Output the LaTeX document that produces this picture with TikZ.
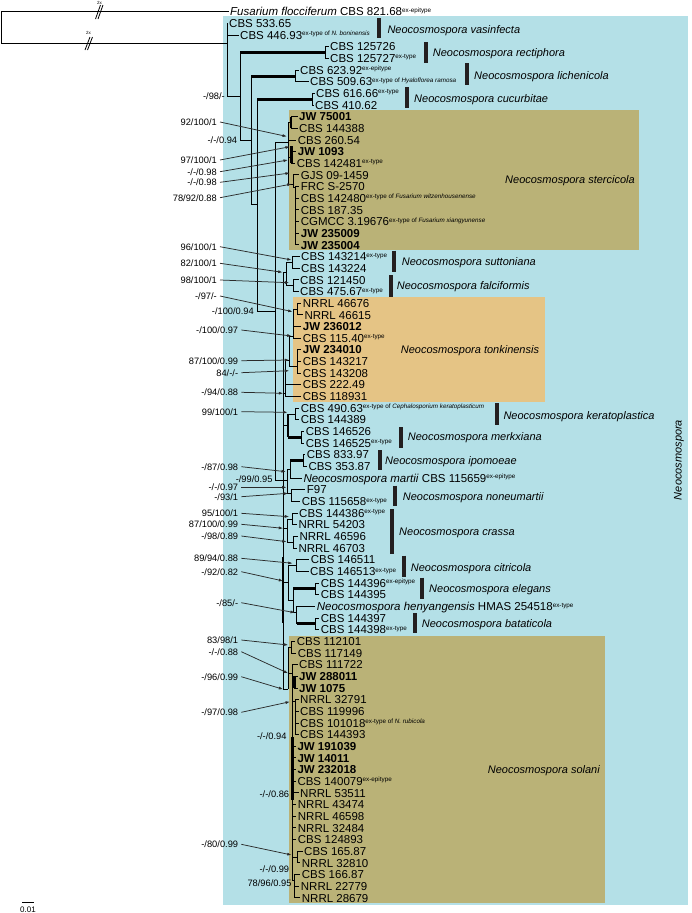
\documentclass[tikz,border=0pt]{standalone}
\usepackage{fontspec}
\setmainfont{Liberation Sans}
\usetikzlibrary{arrows.meta}
\definecolor{bgblue}{HTML}{B4E0E7}
\definecolor{boxolive}{HTML}{BAB277}
\definecolor{boxorange}{HTML}{E5C485}
\definecolor{bardark}{HTML}{231F20}
\definecolor{arrgray}{HTML}{2B2B2B}
\newcommand\tipf{\fontsize{11.5}{12}\selectfont}
\newcommand\spf{\fontsize{11}{12}\selectfont\itshape}
\newcommand\bsf{\fontsize{9.3}{10}\selectfont}
\newcommand\exs[1]{\raisebox{3.5pt}{\fontsize{6.3}{7}\selectfont #1}}
\newcommand\brt[2]{\draw[br] (#1) |- ([xshift=-1.5pt]#2.west);}
\newcommand\brn[2]{\draw[br] (#1) |- (#2);}
\newcommand\brk[2]{\draw[br] (#1) |- (#2); \draw[thk] (#1 |- #2) -- (#2);}
\tikzset{
  br/.style={line width=0.9pt},
  thk/.style={line width=3pt},
  vthk/.style={line width=2.2pt},
  tip/.style={anchor=west, inner sep=0pt, text height=8.2pt, text depth=0pt, font=\tipf},
  spn/.style={anchor=west, inner sep=0pt, text height=8pt, text depth=0pt, font=\spf},
  bsn/.style={anchor=east, inner sep=0pt, text height=6.7pt, text depth=0pt, font=\bsf},
  arr/.style={line width=0.75pt, draw=arrgray, -{Latex[length=4.5pt,width=3pt]}},
  sbar/.style={line width=4pt, draw=bardark},
}
\begin{document}
\begin{tikzpicture}[x=1pt,y=-1pt]
\useasboundingbox (0,0) rectangle (691,913);
\fill[white] (0,0) rectangle (691,913);
\fill[bgblue] (223,16) rectangle (688,905);
\fill[boxolive] (289.3,110) rectangle (639,249.5);
\fill[boxorange] (293.3,297) rectangle (545,402);
\fill[boxolive] (289.3,636) rectangle (605,903.3);

% tips
\node[tip] (t1) at (230,11.7) {\textit{Fusarium flocciferum} CBS 821.68\exs{ex-epitype}};
\node[tip] (t2) at (229,23.4) {CBS 533.65};
\node[tip] (t3) at (240,35.0) {CBS 446.93\exs{ex-type of \textit{N. boninensis}}};
\node[tip] (t4) at (330,46.7) {CBS 125726};
\node[tip] (t5) at (330,58.3) {CBS 125727\exs{ex-type}};
\node[tip] (t6) at (300,70.0) {CBS 623.92\exs{ex-epitype}};
\node[tip] (t7) at (310,81.7) {CBS 509.63\exs{ex-type of \textit{Hyaloflorea ramosa}}};
\node[tip] (t8) at (316,93.3) {CBS 616.66\exs{ex-type}};
\node[tip] (t9) at (315,105.0) {CBS 410.62};
\node[tip] (t10) at (299,116.6) {\textbf{JW 75001}};
\node[tip] (t11) at (299,128.3) {CBS 144388};
\node[tip] (t12) at (297.7,140.0) {CBS 260.54};
\node[tip] (t13) at (297.7,151.6) {\textbf{JW 1093}};
\node[tip] (t14) at (296.7,163.3) {CBS 142481\exs{ex-type}};
\node[tip] (t15) at (300.7,174.9) {GJS 09-1459};
\node[tip] (t16) at (300.7,186.6) {FRC S-2570};
\node[tip] (t17) at (300.7,198.3) {CBS 142480\exs{ex-type of \textit{Fusarium witzenhousenense}}};
\node[tip] (t18) at (300.7,209.9) {CBS 187.35};
\node[tip] (t19) at (300.7,221.6) {CGMCC 3.19676\exs{ex-type of \textit{Fusarium xiangyunense}}};
\node[tip] (t20) at (300.7,233.2) {\textbf{JW 235009}};
\node[tip] (t21) at (300.7,244.9) {\textbf{JW 235004}};
\node[tip] (t22) at (301,256.6) {CBS 143214\exs{ex-type}};
\node[tip] (t23) at (301,268.2) {CBS 143224};
\node[tip] (t24) at (300,279.9) {CBS 121450};
\node[tip] (t25) at (300,291.5) {CBS 475.67\exs{ex-type}};
\node[tip] (t26) at (302.7,303.2) {NRRL 46676};
\node[tip] (t27) at (304.3,314.9) {NRRL 46615};
\node[tip] (t28) at (302.7,326.5) {\textbf{JW 236012}};
\node[tip] (t29) at (302.7,338.2) {CBS 115.40\exs{ex-type}};
\node[tip] (t30) at (302.7,349.8) {\textbf{JW 234010}};
\node[tip] (t31) at (302.7,361.5) {CBS 143217};
\node[tip] (t32) at (302.7,373.2) {CBS 143208};
\node[tip] (t33) at (302.7,384.8) {CBS 222.49};
\node[tip] (t34) at (302.7,396.5) {CBS 118931};
\node[tip] (t35) at (300.7,408.1) {CBS 490.63\exs{ex-type of \textit{Cephalosporium keratoplasticum}}};
\node[tip] (t36) at (300.7,419.8) {CBS 144389};
\node[tip] (t37) at (305.7,431.5) {CBS 146526};
\node[tip] (t38) at (305.7,443.1) {CBS 146525\exs{ex-type}};
\node[tip] (t39) at (306.7,454.8) {CBS 833.97};
\node[tip] (t40) at (308.3,466.4) {CBS 353.87};
\node[tip] (t41) at (303.3,478.1) {\textit{Neocosmospora martii} CBS 115659\exs{ex-epitype}};
\node[tip] (t42) at (306.7,489.8) {F97};
\node[tip] (t43) at (301.7,501.4) {CBS 115658\exs{ex-type}};
\node[tip] (t44) at (299,513.1) {CBS 144386\exs{ex-type}};
\node[tip] (t45) at (298.3,524.7) {NRRL 54203};
\node[tip] (t46) at (299.3,536.4) {NRRL 46596};
\node[tip] (t47) at (298.3,548.1) {NRRL 46703};
\node[tip] (t48) at (310.7,559.7) {CBS 146511};
\node[tip] (t49) at (310,571.4) {CBS 146513\exs{ex-type}};
\node[tip] (t50) at (320.7,583.0) {CBS 144396\exs{ex-epitype}};
\node[tip] (t51) at (320.7,594.7) {CBS 144395};
\node[tip] (t52) at (316.7,606.4) {\textit{Neocosmospora henyangensis} HMAS 254518\exs{ex-type}};
\node[tip] (t53) at (320.7,618.0) {CBS 144397};
\node[tip] (t54) at (320.7,629.7) {CBS 144398\exs{ex-type}};
\node[tip] (t55) at (296.7,641.3) {CBS 112101};
\node[tip] (t56) at (297.7,653.0) {CBS 117149};
\node[tip] (t57) at (299,664.7) {CBS 111722};
\node[tip] (t58) at (299,676.3) {\textbf{JW 288011}};
\node[tip] (t59) at (299,688.0) {\textbf{JW 1075}};
\node[tip] (t60) at (300,699.6) {NRRL 32791};
\node[tip] (t61) at (300,711.3) {CBS 119996};
\node[tip] (t62) at (300,723.0) {CBS 101018\exs{ex-type of \textit{N. rubicola}}};
\node[tip] (t63) at (300,734.6) {CBS 144393};
\node[tip] (t64) at (297.3,746.3) {\textbf{JW 191039}};
\node[tip] (t65) at (297.3,757.9) {\textbf{JW 14011}};
\node[tip] (t66) at (297.3,769.6) {\textbf{JW 232018}};
\node[tip] (t67) at (297.3,781.3) {CBS 140079\exs{ex-epitype}};
\node[tip] (t68) at (300,792.9) {NRRL 53511};
\node[tip] (t69) at (297.7,804.6) {NRRL 43474};
\node[tip] (t70) at (297.7,816.2) {NRRL 46598};
\node[tip] (t71) at (297.7,827.9) {NRRL 32484};
\node[tip] (t72) at (297.7,839.6) {CBS 124893};
\node[tip] (t73) at (304,851.2) {CBS 165.87};
\node[tip] (t74) at (301.7,862.9) {NRRL 32810};
\node[tip] (t75) at (301.7,874.5) {CBS 166.87};
\node[tip] (t76) at (300.7,886.2) {NRRL 22779};
\node[tip] (t77) at (301.7,897.9) {NRRL 28679};

% internal nodes
\coordinate (r0) at (1,27);
\coordinate (R) at (227,43);
\coordinate (C) at (240,96);
\coordinate (Nrect) at (325,52.5);
\coordinate (D) at (251,140);
\coordinate (Nlich) at (295,76);
\coordinate (E) at (257,204);
\coordinate (Ncuc) at (312,99);
\coordinate (F) at (275,311);
\coordinate (S0) at (288,142);
\coordinate (Sa) at (291,122.5);
\coordinate (Sb) at (291.5,157);
\coordinate (Sc) at (293.3,184);
\coordinate (Sd) at (295.7,187);
\coordinate (G) at (283,480);
\coordinate (SF) at (286.7,272);
\coordinate (Nsut) at (292,262.4);
\coordinate (Nfal) at (293.3,285.7);
\coordinate (Ta) at (297,309);
\coordinate (Tb) at (293,336);
\coordinate (Tc) at (297,366);
\coordinate (Td) at (289.3,360);
\coordinate (Te) at (285.5,393);
\coordinate (K) at (288,425);
\coordinate (Nker) at (295,414);
\coordinate (Nmer) at (301.7,437.3);
\coordinate (NM) at (287.5,480);
\coordinate (IM) at (290,469);
\coordinate (Nipo) at (303.3,460.6);
\coordinate (Nnon) at (291.5,493);
\coordinate (Cr) at (287,528);
\coordinate (Ncra) at (292.7,519);
\coordinate (Ncrb) at (293.3,542);
\coordinate (CEB) at (288.3,582);
\coordinate (Ncit) at (296.7,565.5);
\coordinate (EHB) at (293.3,600);
\coordinate (Nele) at (315,588.8);
\coordinate (HB) at (296.7,612.7);
\coordinate (Nbat) at (315.7,623.8);
\coordinate (So) at (288.3,689);
\coordinate (S1) at (291.7,647);
\coordinate (S2) at (292.5,673);
\coordinate (S3) at (294.5,682);
\coordinate (S4) at (295.3,701.7);
\coordinate (S5) at (297,857);
\coordinate (S6) at (294.5,880);

% branches
\brt{r0}{t1} \brn{r0}{R}
\brt{R}{t2} \brt{R}{t3} \brn{R}{C}
\brk{C}{Nrect} \brt{Nrect}{t4} \brt{Nrect}{t5}
\brn{C}{D}
\brk{D}{Nlich} \brt{Nlich}{t6} \brt{Nlich}{t7}
\brn{D}{E}
\brk{E}{Ncuc} \brt{Ncuc}{t8} \brt{Ncuc}{t9}
\brn{E}{F}
\brn{F}{S0}
\brn{S0}{Sa} \brt{Sa}{t10} \brt{Sa}{t11}
\brt{S0}{t12}
\brn{S0}{Sb} \brt{Sb}{t13} \brt{Sb}{t14}
\brn{S0}{Sc} \brt{Sc}{t15} \brn{Sc}{Sd}
\foreach \k in {16,...,21} {\brt{Sd}{t\k}}
\brn{F}{G}
\brn{G}{SF} \brn{SF}{Nsut} \brt{Nsut}{t22} \brt{Nsut}{t23}
\brn{SF}{Nfal} \brt{Nfal}{t24} \brt{Nfal}{t25}
\brn{G}{Te} \brn{Te}{Td} \brt{Te}{t33} \brt{Te}{t34}
\brn{Td}{Tb} \brn{Td}{Tc} \brn{Tb}{Ta}
\brt{Ta}{t26} \brt{Ta}{t27} \brt{Tb}{t28} \brt{Tb}{t29}
\brt{Tc}{t30} \brt{Tc}{t31} \brt{Tc}{t32}
\brn{G}{K} \brn{K}{Nker} \brt{Nker}{t35} \brt{Nker}{t36}
\brk{K}{Nmer} \brt{Nmer}{t37} \brt{Nmer}{t38}
\brn{G}{NM} \brn{NM}{IM} \brk{IM}{Nipo} \brt{Nipo}{t39} \brt{Nipo}{t40} \brt{IM}{t41}
\brn{NM}{Nnon} \brt{Nnon}{t42} \brt{Nnon}{t43}
\brn{G}{Cr} \brn{Cr}{Ncra} \brt{Ncra}{t44} \brt{Ncra}{t45}
\brn{Cr}{Ncrb} \brt{Ncrb}{t46} \brt{Ncrb}{t47}
\brn{G}{CEB} \brn{CEB}{Ncit} \brt{Ncit}{t48} \brt{Ncit}{t49}
\brn{CEB}{EHB} \brk{EHB}{Nele} \brt{Nele}{t50} \brt{Nele}{t51}
\brn{EHB}{HB} \brt{HB}{t52} \brk{HB}{Nbat} \brt{Nbat}{t53} \brt{Nbat}{t54}
\brn{G}{So} \brn{So}{S1} \brt{S1}{t55} \brt{S1}{t56}
\brn{So}{S2} \brt{S2}{t57} \brn{S2}{S3} \brt{S3}{t58} \brt{S3}{t59}
\brn{S2}{S4} \foreach \k in {60,...,63} {\brt{S4}{t\k}}
\foreach \k in {64,...,72} {\brt{S2}{t\k}}
\brn{S2}{S5} \brt{S5}{t73} \brt{S5}{t74}
\brn{S2}{S6} \foreach \k in {75,76,77} {\brt{S6}{t\k}}

% thick vertical pieces
\draw[vthk] (Sa |- t10.west) -- (Sa |- t11.west);
\draw[vthk] (291.5,146) -- (Sb |- t14.west);
\draw[vthk] (K |- Nker) -- (K |- Nmer);
\draw[vthk] (283,557) -- (283,623);
\draw[vthk] (S3 |- t58.west) -- (S3 |- t59.west);
\draw[vthk] (292.5,737) -- (292.5,800);

% breaks
\draw[line width=0.8pt] (95.5,19) -- (100.5,5) (98,19) -- (103,5);
\draw[line width=0.8pt] (85,50) -- (90,37) (87.5,50) -- (92.5,37);
\node[inner sep=0pt, font=\fontsize{4.5}{5}\selectfont] (bk1) at (99.5,2.5) {2x};
\node[inner sep=0pt, font=\fontsize{4.5}{5}\selectfont] (bk2) at (88.5,33) {2x};

% species bars and names
\draw[sbar] (379.3,18) -- (379.3,38);   \node[spn] (sp1) at (387.3,29) {Neocosmospora vasinfecta};
\draw[sbar] (425.7,42) -- (425.7,63);   \node[spn] (sp2) at (432.7,52.3) {Neocosmospora rectiphora};
\draw[sbar] (467.3,63) -- (467.3,85);   \node[spn] (sp3) at (474,75) {Neocosmospora lichenicola};
\draw[sbar] (406.7,87) -- (406.7,108);  \node[spn] (sp4) at (414,98.3) {Neocosmospora cucurbitae};
\node[spn, anchor=east] (sp5) at (635,179.3) {Neocosmospora stercicola};
\draw[sbar] (394.3,250.7) -- (394.3,271.7); \node[spn] (sp6) at (401.7,261.7) {Neocosmospora suttoniana};
\draw[sbar] (391,275) -- (391,296.7);   \node[spn] (sp7) at (396.7,285.7) {Neocosmospora falciformis};
\node[spn] (sp8) at (400.7,349) {Neocosmospora tonkinensis};
\draw[sbar] (497.3,403) -- (497.3,425); \node[spn] (sp9) at (503.3,415) {Neocosmospora keratoplastica};
\draw[sbar] (400.7,427) -- (400.7,448); \node[spn] (sp10) at (407.7,436.7) {Neocosmospora merkxiana};
\draw[sbar] (380,450) -- (380,470);     \node[spn] (sp11) at (385,460.7) {Neocosmospora ipomoeae};
\draw[sbar] (395,485.7) -- (395,505.7); \node[spn] (sp12) at (402.7,496.7) {Neocosmospora noneumartii};
\draw[sbar] (392.3,509) -- (392.3,554); \node[spn] (sp13) at (399,531) {Neocosmospora crassa};
\draw[sbar] (404,555.7) -- (404,576.7); \node[spn] (sp14) at (410.7,567) {Neocosmospora citricola};
\draw[sbar] (422.3,577.7) -- (422.3,599); \node[spn] (sp15) at (429,588.3) {Neocosmospora elegans};
\draw[sbar] (415,613) -- (415,633);     \node[spn] (sp16) at (421.7,623.3) {Neocosmospora bataticola};
\node[spn, anchor=east] (sp17) at (600,769) {Neocosmospora solani};
\node[inner sep=0pt, font=\spf, rotate=90] (gen) at (679,460) {Neocosmospora};

% support values
\node[bsn] (L1) at (225,96) {-/98/-};
\node[bsn] (L2) at (217,122) {92/100/1};
\node[bsn] (L3) at (237.3,140) {-/-/0.94};
\node[bsn] (L4) at (217,160) {97/100/1};
\node[bsn] (L5) at (217,171.7) {-/-/0.98};
\node[bsn] (L6) at (217,182.3) {-/-/0.98};
\node[bsn] (L7) at (217,197.7) {78/92/0.88};
\node[bsn] (L8) at (217,246.7) {96/100/1};
\node[bsn] (L9) at (217,263.3) {82/100/1};
\node[bsn] (L10) at (217,280) {98/100/1};
\node[bsn] (L11) at (217,296) {-/97/-};
\node[bsn] (L12) at (254,311) {-/100/0.94};
\node[bsn] (L13) at (238.3,330) {-/100/0.97};
\node[bsn] (L14) at (238.3,360.7) {87/100/0.99};
\node[bsn] (L15) at (238.3,372.7) {84/-/-};
\node[bsn] (L16) at (238.3,392.3) {-/94/0.88};
\node[bsn] (L17) at (238.3,411.7) {99/100/1};
\node[bsn] (L18) at (238.3,466.7) {-/87/0.98};
\node[bsn] (L19) at (272.7,479) {-/99/0.95};
\node[bsn] (L20) at (238.3,487.3) {-/-/0.97};
\node[bsn] (L21) at (238.3,496.7) {-/93/1};
\node[bsn] (L22) at (238.3,513.3) {95/100/1};
\node[bsn] (L23) at (238.3,524.3) {87/100/0.99};
\node[bsn] (L24) at (238.3,536) {-/98/0.89};
\node[bsn] (L25) at (238.3,558.3) {89/94/0.88};
\node[bsn] (L26) at (238.3,571.7) {-/92/0.82};
\node[bsn] (L27) at (238.3,602.7) {-/85/-};
\node[bsn] (L28) at (238.3,640) {83/98/1};
\node[bsn] (L29) at (238.3,651.7) {-/-/0.88};
\node[bsn] (L30) at (238.3,676.7) {-/96/0.99};
\node[bsn] (L31) at (238.3,712.3) {-/97/0.98};
\node[bsn] (L32) at (286.7,736) {-/-/0.94};
\node[bsn] (L33) at (289.3,794) {-/-/0.86};
\node[bsn] (L34) at (238.3,844.3) {-/80/0.99};
\node[bsn] (L35) at (289.3,869.3) {-/-/0.99};
\node[bsn] (L36) at (291.7,883.3) {78/96/0.95};

% arrow targets
\coordinate (a2) at (287,136.5);
\coordinate (a4) at (290,146.7);
\coordinate (a5) at (288,160);
\coordinate (a6) at (290,173);
\coordinate (a7) at (291.7,184);
\coordinate (a8) at (291.7,260);
\coordinate (a9) at (282.7,272.3);
\coordinate (a10) at (289.3,282.7);
\coordinate (a11) at (292.7,311.7);
\coordinate (a13) at (291.7,336);
\coordinate (a14) at (289.3,360);
\coordinate (a15) at (289.3,370.7);
\coordinate (a16) at (283.3,393.3);
\coordinate (a17) at (287.7,412.3);
\coordinate (a18) at (286,471.7);
\coordinate (a20) at (286.7,487.3);
\coordinate (a21) at (288.3,493.3);
\coordinate (a22) at (289.3,516.7);
\coordinate (a23) at (283.3,528.3);
\coordinate (a24) at (286.7,541.7);
\coordinate (a25) at (292.7,563.3);
\coordinate (a26) at (283.3,581);
\coordinate (a27) at (295,612.7);
\coordinate (a28) at (288.3,645);
\coordinate (a29) at (288.3,673.3);
\coordinate (a30) at (283.3,689.3);
\coordinate (a31) at (290,701.7);
\coordinate (a34) at (291.7,855);
\foreach \k in {2,4,5,6,7,8,9,10,11,13,14,15,16,17,18,20,21,22,23,24,25,26,27,28,29,30,31,34}
  {\draw[arr] ([xshift=3pt]L\k.east) -- (a\k);}

% scale bar
\coordinate (sb1) at (22,902.5);
\coordinate (sb2) at (34,902.5);
\draw[br] (sb1) -- (sb2);
\node[inner sep=0pt, font=\fontsize{8}{9}\selectfont] (sbl) at (28,909.5) {0.01};
\end{tikzpicture}
\end{document}
